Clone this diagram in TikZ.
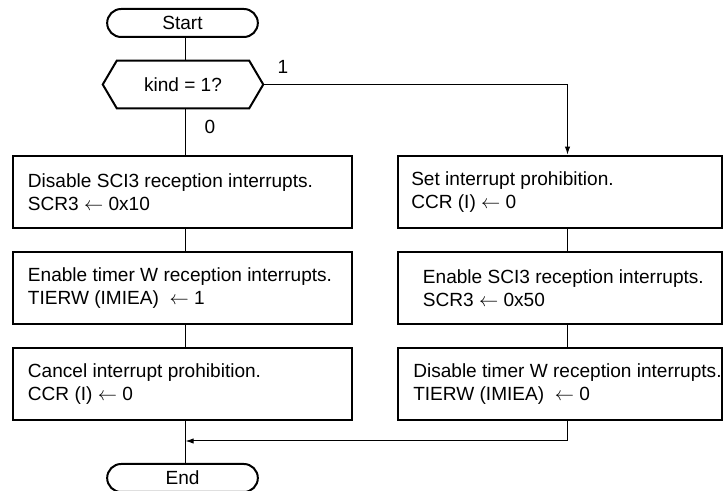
\documentclass[tikz,border=0pt]{standalone}
\usepackage{fontspec}
\setmainfont{Liberation Sans}
\usetikzlibrary{arrows.meta,shapes.misc,calc}
\begin{document}
\begin{tikzpicture}[x=0.75pt,y=-0.75pt,
  font=\fontsize{14.3pt}{17.3pt}\selectfont,
  conn/.style={line width=0.75pt},
  arr/.style={conn,-{Latex[length=6pt,width=4pt]}},
  term/.style={draw,line width=1.5pt,rounded rectangle,minimum width=113pt,minimum height=21pt,inner sep=0pt},
  lbox/.style={draw,line width=2pt,minimum height=54pt,minimum width=254.25pt,inner sep=0pt},
  rbox/.style={draw,line width=2pt,minimum height=54pt,minimum width=243pt,inner sep=0pt},
  btext/.style={anchor=west,align=left,inner sep=0pt}]
\fill[white] (0,0) rectangle (725,491);
\useasboundingbox (0,0) rectangle (725,491);
\coordinate (colL) at (185.5,0);
\coordinate (colR) at (567.5,0);
\coordinate (merge) at (185.5,441);

\node[term] (start) at (182.5,23) {Start};
\node[minimum width=120pt,minimum height=35.25pt,inner sep=0pt] (dec) at (183,84.5) {kind = 1?};
\draw[line width=1.5pt] (dec.west) -- ([xshift=10.5pt]dec.north west) -- ([xshift=-10.5pt]dec.north east) -- (dec.east) -- ([xshift=-10.5pt]dec.south east) -- ([xshift=10.5pt]dec.south west) -- cycle;

\node[lbox] (lb1) at (182.5,192) {};
\node[btext] (lt1) at ([xshift=12pt]lb1.west) {Disable SCI3 reception interrupts.\\SCR3 $\leftarrow$ 0x10};
\node[lbox] (lb2) at (182.5,288) {};
\node[btext] (lt2) at ([xshift=12pt]lb2.west) {Enable timer W reception interrupts.\\TIERW (IMIEA)~~$\leftarrow$ 1};
\node[lbox] (lb3) at (182.5,384) {};
\node[btext] (lt3) at ([xshift=12pt]lb3.west) {Cancel interrupt prohibition.\\CCR (I) $\leftarrow$ 0};

\node[rbox] (rb1) at (560,192) {};
\node[btext] (rt1) at ([xshift=10.75pt]rb1.west) {Set interrupt prohibition.\\CCR (I) $\leftarrow$ 0};
\node[rbox] (rb2) at (560,288) {};
\node[btext] (rt2) at ([xshift=19.5pt]rb2.west) {Enable SCI3 reception interrupts.\\SCR3 $\leftarrow$ 0x50};
\node[rbox] (rb3) at (560,384) {};
\node[btext] (rt3) at ([xshift=12.25pt]rb3.west) {Disable timer W reception interrupts.\\TIERW (IMIEA)~~$\leftarrow$ 0};

\node[term] (end) at (182.5,478) {End};

\node (one) at (283,67) {1};
\node (zero) at (210,127) {0};

\draw[conn] (start.south -| colL) -- (dec.north -| colL);
\draw[conn] (dec.south -| colL) -- (lb1.north -| colL);
\draw[conn] (lb1.south -| colL) -- (lb2.north -| colL);
\draw[conn] (lb2.south -| colL) -- (lb3.north -| colL);
\draw[conn] (lb3.south -| colL) -- (end.north -| colL);
\draw[arr] (dec.east) -| (rb1.north -| colR);
\draw[conn] (rb1.south -| colR) -- (rb2.north -| colR);
\draw[conn] (rb2.south -| colR) -- (rb3.north -| colR);
\draw[arr] (rb3.south -| colR) |- (merge);
\end{tikzpicture}
\end{document}
